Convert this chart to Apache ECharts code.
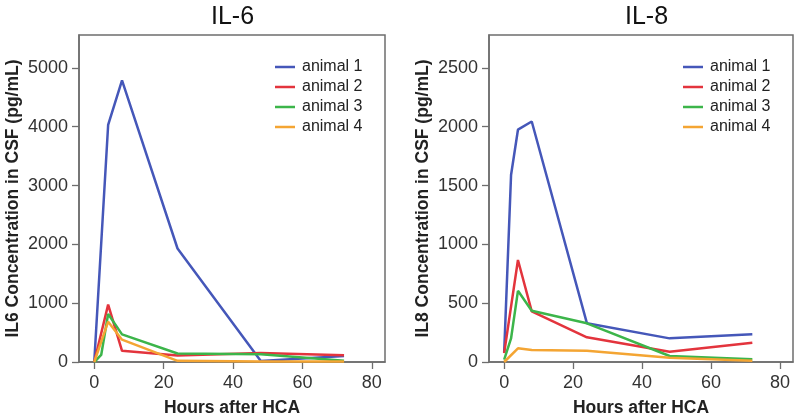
<!DOCTYPE html>
<html>
<head>
<meta charset="utf-8">
<script src="https://cdn.jsdelivr.net/npm/echarts@6/dist/echarts.min.js"></script>
<style>
html,body{margin:0;padding:0;background:#fff;}
#c{width:800px;height:418px;}
</style>
</head>
<body>
<div id="c"></div>
<script>
// ---- data ----
const hours = [0, 2, 4, 8, 24, 48, 72];
const seriesNames = ['animal 1', 'animal 2', 'animal 3', 'animal 4'];
const xTicks = [0, 20, 40, 60, 80];
const il6Ticks = [0, 1000, 2000, 3000, 4000, 5000];
const il8Ticks = [0, 500, 1000, 1500, 2000, 2500];

const il6Animal1 = [0, null, 4030, 4790, 1930, 15, 100];
const il6Animal2 = [0, null, 975, 190, 110, 155, 115];
const il6Animal3 = [0, 120, 815, 470, 145, 130, 20];
const il6Animal4 = [0, null, 685, 380, 20, 10, 10];

const il8Animal1 = [80, 1590, 1975, 2045, 330, 201, 235];
const il8Animal2 = [75, null, 867, 430, 210, 88, 164];
const il8Animal3 = [20, 200, 605, 436, 329, 51, 23];
const il8Animal4 = [0, null, 116, 102, 96, 37, 11];

const colors = ['#4557b9', '#e3343d', '#3cb54a', '#f4a533'];

function pairs(vals) { return hours.map((h, i) => [h, vals[i]]); }

const il6 = [il6Animal1, il6Animal2, il6Animal3, il6Animal4];
const il8 = [il8Animal1, il8Animal2, il8Animal3, il8Animal4];

const axisColor = '#6e6e6e';
const labelColor = '#333';
const plain = v => String(v);

function xAxis(idx) {
  return {
    type: 'value', gridIndex: idx, min: -4.4, max: 83.8,
    name: 'Hours after HCA', nameLocation: 'middle', nameGap: 37,
    nameTextStyle: { fontFamily: 'Liberation Sans', fontWeight: 'bold', fontSize: 17.5, color: '#222' },
    axisLine: { show: true, onZero: false, lineStyle: { color: axisColor, width: 1.5 } },
    axisTick: { show: true, length: 7, lineStyle: { color: axisColor, width: 1.3 }, customValues: xTicks },
    axisLabel: { customValues: xTicks, formatter: plain, margin: 12, fontFamily: 'Liberation Sans', fontSize: 18, color: labelColor },
    splitLine: { show: false }
  };
}
function yAxis(idx, max, ticks, name) {
  return {
    type: 'value', gridIndex: idx, min: 0, max: max,
    name: name, nameLocation: 'middle', nameGap: 57, nameRotate: 90,
    nameTextStyle: { fontFamily: 'Liberation Sans', fontWeight: 'bold', fontSize: 17.5, color: '#222' },
    axisLine: { show: true, onZero: false, lineStyle: { color: axisColor, width: 1.5 } },
    axisTick: { show: true, length: 7, lineStyle: { color: axisColor, width: 1.3 }, customValues: ticks },
    axisLabel: { customValues: ticks, formatter: plain, margin: 11, fontFamily: 'Liberation Sans', fontSize: 18, color: labelColor },
    splitLine: { show: false }
  };
}

const series = [];
[il6, il8].forEach((set, g) => {
  set.forEach((vals, i) => {
    series.push({
      type: 'line', name: seriesNames[i], xAxisIndex: g, yAxisIndex: g,
      data: pairs(vals), connectNulls: true, showSymbol: false, symbol: 'none',
      lineStyle: { color: colors[i], width: 2.5 }, itemStyle: { color: colors[i] },
      silent: true, animation: false
    });
  });
});

function legend(left) {
  return {
    orient: 'vertical', left: left, top: 59, padding: 0,
    data: seriesNames, icon: 'rect', itemWidth: 20, itemHeight: 2.5, itemGap: 4,
    textStyle: { fontFamily: 'Liberation Sans', fontSize: 16, color: '#222', lineHeight: 16, padding: [0, 0, 0, 2] },
    selectedMode: false
  };
}

const chart = echarts.init(document.getElementById('c'), null, { renderer: 'canvas' });
chart.setOption({
  animation: false,
  color: colors,
  title: [
    { text: 'IL-6', left: 206, top: 0, textStyle: { fontFamily: 'Liberation Sans', fontWeight: 'normal', fontSize: 25, color: '#111' } },
    { text: 'IL-8', left: 620, top: 0, textStyle: { fontFamily: 'Liberation Sans', fontWeight: 'normal', fontSize: 25, color: '#111' } }
  ],
  legend: [legend(275), legend(683)],
  grid: [
    { left: 79, top: 35, width: 306, height: 327, outerBoundsMode: 'none', containLabel: false, show: true, borderColor: axisColor, borderWidth: 1.5, backgroundColor: 'transparent' },
    { left: 489, top: 35, width: 304, height: 327, outerBoundsMode: 'none', containLabel: false, show: true, borderColor: axisColor, borderWidth: 1.5, backgroundColor: 'transparent' }
  ],
  xAxis: [xAxis(0), xAxis(1)],
  yAxis: [
    yAxis(0, 5560, il6Ticks, 'IL6 Concentration in CSF (pg/mL)'),
    yAxis(1, 2780, il8Ticks, 'IL8 Concentration in CSF (pg/mL)')
  ],
  series: series
});
</script>
</body>
</html>
